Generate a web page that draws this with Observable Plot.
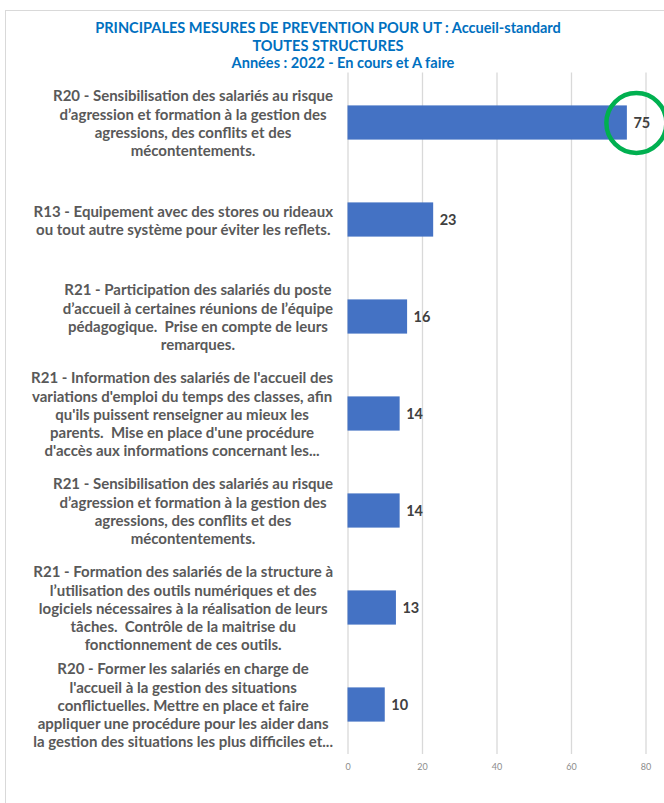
<!DOCTYPE html>
<html><head><meta charset="utf-8">
<script src="https://cdn.jsdelivr.net/npm/d3@7"></script>
<script src="https://cdn.jsdelivr.net/npm/@observablehq/plot@0.6"></script>
<style>
html,body{margin:0;padding:0;background:#fff;width:664px;height:803px;overflow:hidden;}
#frame{position:absolute;left:5px;top:10px;width:720px;height:860px;border-top:1px solid #d9d9d9;border-left:1px solid #d9d9d9;}
#title{position:absolute;left:5px;width:646px;top:19px;text-align:center;color:#0070C0;font-family:Lato, sans-serif;font-weight:bold;line-height:17.5px;white-space:pre;}
#chart{position:absolute;left:0;top:62px;}
</style></head><body>
<div id="frame"></div>
<div id="title"><div id="t1"></div><div id="t2"></div><div id="t3" style="padding-left:30px"></div></div>
<div id="chart"></div>
<script>
const titleLines = [
  "PRINCIPALES MESURES DE PREVENTION POUR UT : Accueil-standard",
  "TOUTES STRUCTURES",
  "Années : 2022 - En cours et A faire"
];
const categories = [
  "R20 - Sensibilisation des salariés au risque\nd’agression et formation à la gestion des\nagressions, des conflits et des\nmécontentements.",
  "R13 - Equipement avec des stores ou rideaux\nou tout autre système pour éviter les reflets.",
  "R21 - Participation des salariés du poste\nd’accueil à certaines réunions de l’équipe\npédagogique.  Prise en compte de leurs\nremarques.",
  "R21 - Information des salariés de l'accueil des\nvariations d'emploi du temps des classes, afin\nqu'ils puissent renseigner au mieux les\nparents.  Mise en place d'une procédure\nd'accès aux informations concernant les...",
  "R21 - Sensibilisation des salariés au risque\nd’agression et formation à la gestion des\nagressions, des conflits et des\nmécontentements.",
  "R21 - Formation des salariés de la structure à\nl’utilisation des outils numériques et des\nlogiciels nécessaires à la réalisation de leurs\ntâches.  Contrôle de la maitrise du\nfonctionnement de ces outils.",
  "R20 - Former les salariés en charge de\nl'accueil à la gestion des situations\nconflictuelles. Mettre en place et faire\nappliquer une procédure pour les aider dans\nla gestion des situations les plus difficiles et..."
];
const values = [75, 23, 16, 14, 14, 13, 10];
const xTicks = [0, 20, 40, 60, 80];
const highlighted = [categories[0]];

const FONT = "Lato";
const ctx = document.createElement("canvas").getContext("2d");
function textWidth(s, size, weight) {
  ctx.font = `${weight} ${size}px ${FONT}`;
  return ctx.measureText(s).width;
}

// title
const tSize = Math.min(16, 14 * 467 / textWidth(titleLines[0], 14, "bold"));
["t1","t2","t3"].forEach((id, i) => {
  const el = document.getElementById(id);
  el.textContent = titleLines[i];
  el.style.fontSize = tSize + "px";
});

// label font size fitted to the longest line
const allLines = categories.flatMap(c => c.split("\n"));
const maxW14 = d3.max(allLines, l => textWidth(l, 14, "bold"));
const labelSize = Math.min(15, 14 * 313 / maxW14);
const lineHeightPx = 18.3;

const data = categories.map((c, i) => ({label: c, value: values[i]}));

const labelMarks = data.map(d => {
  const w = d3.max(d.label.split("\n"), l => textWidth(l, labelSize, "bold"));
  return Plot.text([d], {
    y: "label", text: "label", frameAnchor: "left", textAnchor: "middle",
    dx: -(15 + w / 2), fontSize: labelSize, fontWeight: "bold", fontFamily: FONT,
    fill: "#595959", lineHeight: lineHeightPx / labelSize
  });
});

const plot = Plot.plot({
  width: 664, height: 722,
  marginLeft: 347.5, marginRight: 18.5, marginTop: 10.5, marginBottom: 30,
  style: {overflow: "visible", background: "transparent"},
  x: {domain: [0, 80], axis: null, label: null},
  y: {domain: categories, axis: null, padding: 0},
  marks: [
    Plot.gridX(xTicks, {stroke: "#d9d9d9", strokeOpacity: 1, strokeWidth: 1.3}),
    Plot.axisX(xTicks, {tickSize: 0, tickPadding: 9, fontSize: 9, fill: "#8c8c8c", fontFamily: FONT, label: null}),
    Plot.barX(data, {x: "value", y: "label", fill: "#4472C4", insetTop: 31.4, insetBottom: 31.4}),
    Plot.text(data, {x: "value", y: "label", text: d => String(d.value), textAnchor: "start", dx: 6,
      fontSize: 14.5, fontWeight: "bold", fontFamily: FONT, fill: "#404040"}),
    ...labelMarks,
    Plot.dot(data.filter(d => highlighted.includes(d.label)), {x: "value", y: "label", r: 30, dx: 9,
      stroke: "#00B050", strokeWidth: 4.5, fill: "none"})
  ]
});
document.getElementById("chart").appendChild(plot);
</script>
</body></html>
